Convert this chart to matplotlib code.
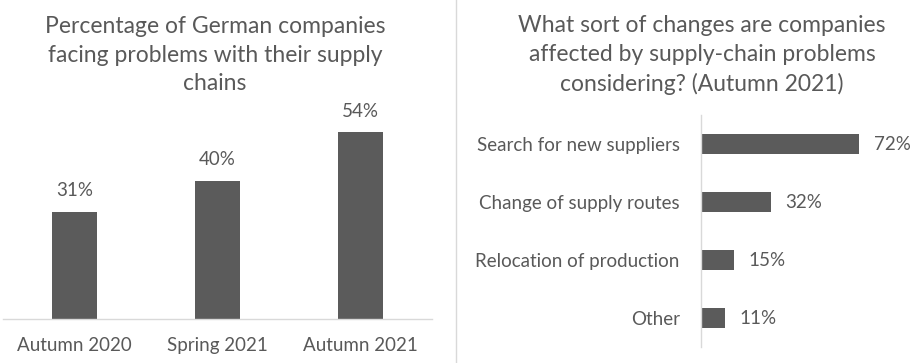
import numpy as np
import matplotlib
matplotlib.use("Agg")
import matplotlib.pyplot as plt
from matplotlib.lines import Line2D

# data
periods = ["Autumn 2020", "Spring 2021", "Autumn 2021"]
share_problems = [31, 40, 54]

changes = ["Search for new suppliers", "Change of supply routes",
           "Relocation of production", "Other"]
share_changes = [72, 32, 15, 11]

title_left = "Percentage of German companies\nfacing problems with their supply\nchains"
title_right = "What sort of changes are companies\naffected by supply-chain problems\nconsidering? (Autumn 2021)"

plt.rcParams['font.family'] = ['Lato', 'DejaVu Sans']
txt = '#595959'
bar_c = '#5b5b5b'
fs = 13.5
W, H = 914, 363
fig = plt.figure(figsize=(W / 100, H / 100), dpi=100)

def box(x0, y0, x1, y1):
    # pixel box (top-left origin) -> figure fraction
    return [x0 / W, 1 - y1 / H, (x1 - x0) / W, (y1 - y0) / H]

# left: vertical bars
ax1 = fig.add_axes(box(3, 111.4, 432, 319))
x = np.arange(len(periods))
ax1.bar(x, share_problems, width=0.31, color=bar_c)
ax1.set_xlim(-0.5, 2.5)
ax1.set_ylim(0, 60)
for xi, v in zip(x, share_problems):
    ax1.text(xi, v + 6, f"{v}%", ha='center', va='center', fontsize=fs, color=txt)
ax1.set_xticks(x)
ax1.set_xticklabels(periods, fontsize=fs, color=txt)
ax1.tick_params(axis='x', length=0, pad=13)
ax1.set_yticks([])
for s in ['top', 'right', 'left']:
    ax1.spines[s].set_visible(False)
ax1.spines['bottom'].set_color('#d9d9d9')
ax1.spines['bottom'].set_linewidth(1.0)
ax1.patch.set_alpha(0)

# right: horizontal bars
ax2 = fig.add_axes(box(700.7, 115, 899, 347))
y = np.arange(len(changes))
ax2.barh(y, share_changes, height=0.34, color=bar_c)
ax2.set_ylim(3.5, -0.5)
ax2.set_xlim(0, 90)
for yi, v in zip(y, share_changes):
    ax2.text(v + 6.5, yi, f"{v}%", ha='left', va='center', fontsize=fs, color=txt)
ax2.set_yticks(y)
ax2.set_yticklabels(changes, fontsize=fs, color=txt)
ax2.tick_params(axis='y', length=0, pad=15)
ax2.set_xticks([])
for s in ['top', 'right', 'bottom']:
    ax2.spines[s].set_visible(False)
ax2.spines['left'].set_color('#d9d9d9')
ax2.spines['left'].set_linewidth(1.0)
ax2.patch.set_alpha(0)

# titles
fig.text(215 / W, 1 - 55 / H, title_left, ha='center', va='center',
         fontsize=16.5, color=txt, linespacing=1.44, multialignment='center')
fig.text(702 / W, 1 - 55 / H, title_right, ha='center', va='center',
         fontsize=16.5, color=txt, linespacing=1.44, multialignment='center')

# separator between panels
fig.add_artist(Line2D([456 / W, 456 / W], [0, 1], color='#d9d9d9', lw=1.0,
                      transform=fig.transFigure))

fig.savefig("out.png", dpi=100)
